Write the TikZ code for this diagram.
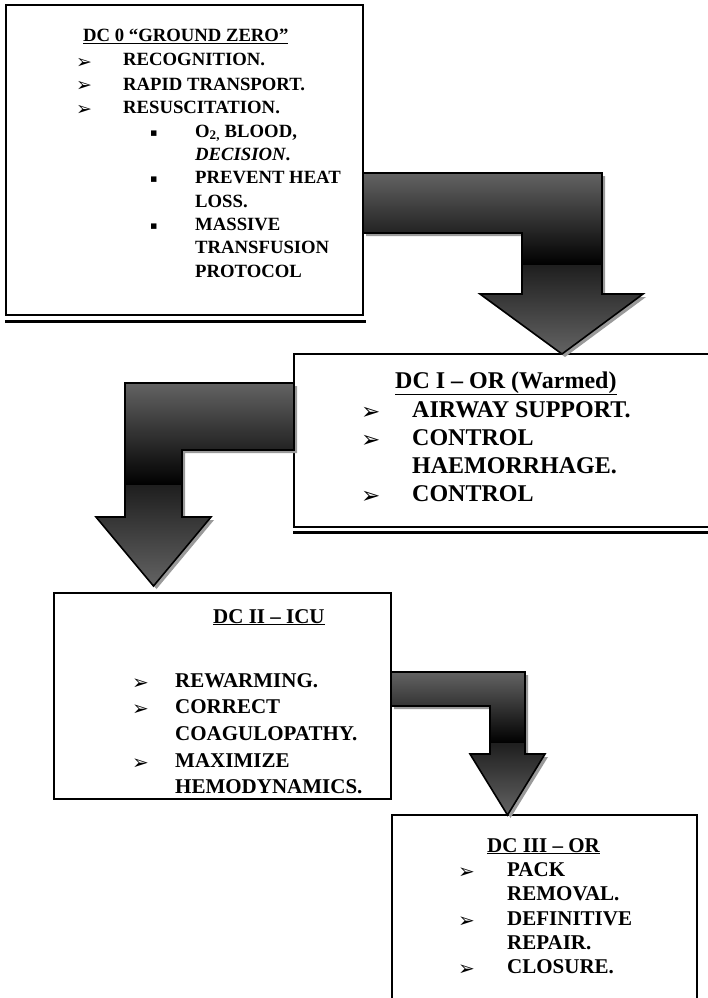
\documentclass[tikz,border=0pt]{standalone}
\usepackage{fontspec}
\setmainfont{Liberation Serif}
\newfontfamily\dingfont{DejaVu Sans}
\definecolor{arrgray}{HTML}{636363}
\definecolor{shadowgray}{HTML}{9A9A9A}
\newcommand\bentarrow[4]{%
  \fill[shadowgray, shift={(3,3)}] #1;
  \begin{scope}
    \clip #1;
    \shade[top color=arrgray, bottom color=black] (0,#2) rectangle (708,#3);
    \shade[top color=black!88, bottom color=arrgray] (0,#3) rectangle (708,#4);
  \end{scope}
  \draw[line width=1.6pt, line join=miter] #1;
}
\tikzset{
  panel/.style={draw=black, line width=1.2pt, fill=white, anchor=north west, inner sep=0pt, outer sep=0pt},
  rule/.style={line width=3pt},
  ta/.style={anchor=base west, inner sep=0pt, font=\fontsize{18.7}{22}\selectfont\bfseries},
  tb/.style={anchor=base west, inner sep=0pt, font=\fontsize{24}{28}\selectfont\bfseries},
  tc/.style={anchor=base west, inner sep=0pt, font=\fontsize{21}{25}\selectfont\bfseries},
  bua/.style={anchor=base west, inner sep=0pt, font=\dingfont\fontsize{19}{19}\selectfont},
  bub/.style={anchor=base west, inner sep=0pt, font=\dingfont\fontsize{23}{23}\selectfont},
  buc/.style={anchor=base west, inner sep=0pt, font=\dingfont\fontsize{20}{20}\selectfont},
  sqa/.style={anchor=base west, inner sep=0pt, font=\dingfont\fontsize{11}{11}\selectfont},
}
\begin{document}
\begin{tikzpicture}[x=1pt, y=-1pt]
\clip (0,0) rectangle (708,998);
\fill[white] (0,0) rectangle (708,998);

% boxes
\node[panel, minimum width=357pt, minimum height=310pt] (box0) at (6,5) {};
\draw[rule] (5,321) -- (366,321);
\node[panel, minimum width=430pt, minimum height=173pt] (box1) at (294,354) {};
\draw[rule] (293,532) -- (708,532);
\node[panel, minimum width=337pt, minimum height=206pt] (box2) at (54,593) {};
\node[panel, minimum width=305pt, minimum height=200pt] (box3) at (392,815) {};

% block arrows
\bentarrow{(363,173) -- (602,173) -- (602,294) -- (643,294) -- (562,354) -- (480,294) -- (522,294) -- (522,233) -- (363,233) -- cycle}{173}{265}{354}
\bentarrow{(294,383) -- (125,383) -- (125,517) -- (96,517) -- (153.5,586) -- (211,517) -- (182,517) -- (182,450) -- (294,450) -- cycle}{383}{485}{586}
\bentarrow{(391,672) -- (525,672) -- (525,754) -- (545,754) -- (507.5,815) -- (470,754) -- (490,754) -- (490,706) -- (391,706) -- cycle}{672}{743}{815}

% box 0 text
\node[ta] (h0) at (83,42) {\underline{DC 0 “GROUND ZERO”}};
\node[bua] (p01) at (76,68) {➢};
\node[ta] (a01) at (123,66) {RECOGNITION.};
\node[bua] (p02) at (76,92) {➢};
\node[ta] (a02) at (123,90) {RAPID TRANSPORT.};
\node[bua] (p03) at (76,115) {➢};
\node[ta] (a03) at (123,113) {RESUSCITATION.};
\node[sqa] (q01) at (150,136) {▪};
\node[ta] (a04) at (195,137) {O\textsubscript{2,} BLOOD,};
\node[ta] (a05) at (195,160) {\textit{DECISION}.};
\node[sqa] (q02) at (150,182) {▪};
\node[ta] (a06) at (195,183) {PREVENT HEAT};
\node[ta] (a07) at (195,207) {LOSS.};
\node[sqa] (q03) at (150,229) {▪};
\node[ta] (a08) at (195,230) {MASSIVE};
\node[ta] (a09) at (195,253) {TRANSFUSION};
\node[ta] (a10) at (195,277) {PROTOCOL};

% box 1 text
\node[tb] (h1) at (395,388) {\underline{DC I – OR (Warmed)}};
\node[bub] (p11) at (361,419) {➢};
\node[tb] (b01) at (412,417) {AIRWAY SUPPORT.};
\node[bub] (p12) at (361,447) {➢};
\node[tb] (b02) at (412,445) {CONTROL};
\node[tb] (b03) at (412,473) {HAEMORRHAGE.};
\node[bub] (p13) at (361,503) {➢};
\node[tb] (b04) at (412,501) {CONTROL};

% box 2 text
\node[tc] (h2) at (213,623) {\underline{DC II – ICU}};
\node[buc] (p21) at (132,689) {➢};
\node[tc] (c01) at (175,687) {REWARMING.};
\node[buc] (p22) at (132,715) {➢};
\node[tc] (c02) at (175,713) {CORRECT};
\node[tc] (c03) at (175,740) {COAGULOPATHY.};
\node[buc] (p23) at (132,769) {➢};
\node[tc] (c04) at (175,767) {MAXIMIZE};
\node[tc] (c05) at (175,793) {HEMODYNAMICS.};

% box 3 text
\node[tc] (h3) at (487,852) {\underline{DC III – OR}};
\node[buc] (p31) at (458,878) {➢};
\node[tc] (d01) at (507,876) {PACK};
\node[tc] (d02) at (507,900) {REMOVAL.};
\node[buc] (p32) at (458,927) {➢};
\node[tc] (d03) at (507,925) {DEFINITIVE};
\node[tc] (d04) at (507,949) {REPAIR.};
\node[buc] (p33) at (458,975) {➢};
\node[tc] (d05) at (507,973) {CLOSURE.};
\end{tikzpicture}
\end{document}
